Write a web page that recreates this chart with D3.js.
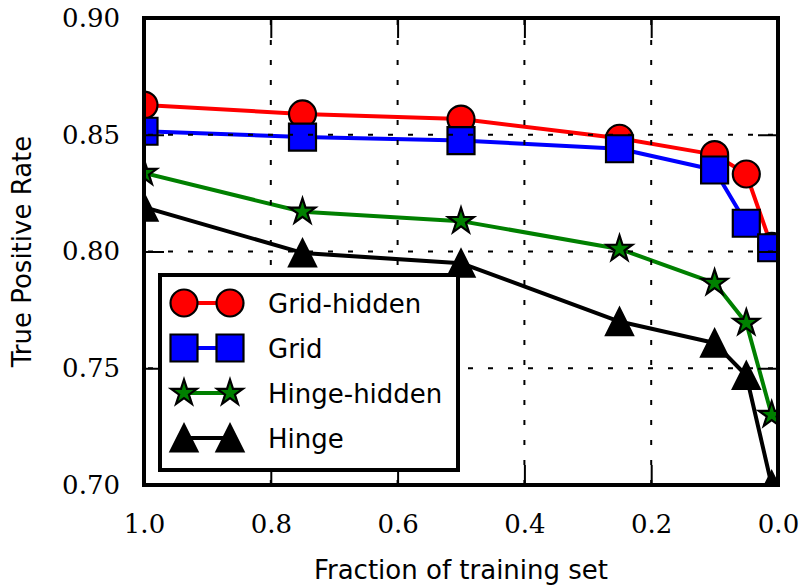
<!DOCTYPE html>
<html><head><meta charset="utf-8">
<script src="https://cdn.jsdelivr.net/npm/d3@7"></script>
<style>body{margin:0;background:#fff}</style>
</head><body>
<svg id="chart" width="803" height="587"></svg>
<script>
// ---- data ----
const fractions   = [1.0, 0.75, 0.5, 0.25, 0.1, 0.05, 0.01];
const gridHidden  = [0.8627, 0.8589, 0.8567, 0.8485, 0.8415, 0.8332, 0.8022];
const grid        = [0.8515, 0.8490, 0.8475, 0.8440, 0.8349, 0.8121, 0.8016];
const hingeHidden = [0.8336, 0.8170, 0.8130, 0.8011, 0.7865, 0.7694, 0.7300];
const hinge       = [0.8190, 0.7994, 0.7950, 0.7700, 0.7608, 0.7469, 0.7000];
const seriesNames = ["Grid-hidden", "Grid", "Hinge-hidden", "Hinge"];
const xTicks = [1.0, 0.8, 0.6, 0.4, 0.2, 0.0];
const yTicks = [0.70, 0.75, 0.80, 0.85, 0.90];
const xLabel = "Fraction of training set";
const yLabel = "True Positive Rate";

const seriesValues = [gridHidden, grid, hingeHidden, hinge];
const seriesColors = ["#ff0000", "#0000ff", "#008000", "#000000"];
const seriesMarkers = ["circle", "square", "star", "triangle"];

// ---- layout ----
const L = 144, R = 778, T = 18, B = 485;
const svg = d3.select("#chart");
const x = d3.scaleLinear().domain([1, 0]).range([L, R]);
const y = d3.scaleLinear().domain([0.70, 0.90]).range([B, T]);
const MS = 27, MEW = 2.2, LW = 4;

svg.append("defs").append("clipPath").attr("id", "clip")
  .append("rect").attr("x", L).attr("y", T).attr("width", R - L).attr("height", B - T);

function markerPath(type, s) {
  const h = s / 2;
  if (type === "circle") {
    return `M${h},0A${h},${h} 0 1,1 ${-h},0A${h},${h} 0 1,1 ${h},0Z`;
  }
  if (type === "square") {
    return `M${-h},${-h}H${h}V${h}H${-h}Z`;
  }
  if (type === "triangle") {
    return `M0,${-h}L${-h},${h}L${h},${h}Z`;
  }
  // star
  const ro = h, ri = h * 0.381966;
  const pts = [];
  for (let i = 0; i < 10; i++) {
    const r = i % 2 === 0 ? ro : ri;
    const a = -Math.PI / 2 + i * Math.PI / 5;
    pts.push([r * Math.cos(a), r * Math.sin(a)]);
  }
  return "M" + pts.map(p => p[0].toFixed(2) + "," + p[1].toFixed(2)).join("L") + "Z";
}

// ---- series ----
const plot = svg.append("g").attr("clip-path", "url(#clip)");
const line = d3.line().x(d => x(d[0])).y(d => y(d[1]));
seriesValues.forEach((vals, i) => {
  const pts = fractions.map((f, j) => [f, vals[j]]);
  const g = plot.append("g");
  g.append("path").attr("d", line(pts)).attr("fill", "none")
    .attr("stroke", seriesColors[i]).attr("stroke-width", LW).attr("stroke-linejoin", "round");
  g.selectAll("path.m").data(pts).enter().append("path").attr("class", "m")
    .attr("transform", d => `translate(${x(d[0])},${y(d[1])})`)
    .attr("d", markerPath(seriesMarkers[i], MS))
    .attr("fill", seriesColors[i]).attr("stroke", "#000").attr("stroke-width", MEW)
    .attr("stroke-linejoin", "miter");
});

// ---- grid (drawn above data) ----
const gridG = svg.append("g").attr("stroke", "#000").attr("stroke-width", 2)
  .attr("stroke-dasharray", "5,15");
gridG.selectAll("line.gx").data(xTicks.filter(v => v > 0 && v < 1)).enter().append("line")
  .attr("x1", d => x(d)).attr("x2", d => x(d)).attr("y1", B).attr("y2", T);
gridG.selectAll("line.gy").data(yTicks.filter(v => v > 0.7 && v < 0.9)).enter().append("line")
  .attr("y1", d => y(d)).attr("y2", d => y(d)).attr("x1", L + 4).attr("x2", R);

// ---- axes ----
const serif = "'DejaVu Serif', 'Liberation Serif', serif";
const sans = "'DejaVu Sans', sans-serif";
function styleAxis(g, showLabels) {
  g.select(".domain").remove();
  g.selectAll(".tick line").attr("stroke", "#000").attr("stroke-width", 2);
  g.selectAll(".tick text").attr("fill", "#000").style("font-family", serif).style("font-size", "26px");
  if (!showLabels) g.selectAll(".tick text").remove();
}
svg.append("g").attr("transform", `translate(0,${B})`)
  .call(d3.axisBottom(x).tickValues(xTicks).tickFormat(d3.format(".1f")).tickSizeInner(-20).tickSizeOuter(0).tickPadding(30))
  .call(g => styleAxis(g, true));
svg.append("g").attr("transform", `translate(0,${T})`)
  .call(d3.axisTop(x).tickValues(xTicks).tickSizeInner(-20).tickSizeOuter(0))
  .call(g => styleAxis(g, false));
svg.append("g").attr("transform", `translate(${L},0)`)
  .call(d3.axisLeft(y).tickValues(yTicks).tickFormat(d3.format(".2f")).tickSizeInner(-20).tickSizeOuter(0).tickPadding(24))
  .call(g => styleAxis(g, true));
svg.append("g").attr("transform", `translate(${R},0)`)
  .call(d3.axisRight(y).tickValues(yTicks).tickSizeInner(-20).tickSizeOuter(0))
  .call(g => styleAxis(g, false));

// frame
svg.append("rect").attr("x", L).attr("y", T).attr("width", R - L).attr("height", B - T)
  .attr("fill", "none").attr("stroke", "#000").attr("stroke-width", 4);

// axis labels
svg.append("text").attr("x", (L + R) / 2).attr("y", 579).attr("text-anchor", "middle")
  .style("font-family", sans).style("font-size", "26px").text(xLabel);
svg.append("text").attr("transform", `translate(31,${(T + B) / 2}) rotate(-90)`).attr("text-anchor", "middle")
  .style("font-family", sans).style("font-size", "26px").text(yLabel);

// ---- legend ----
const lg = svg.append("g");
lg.append("rect").attr("x", 160).attr("y", 275).attr("width", 298).attr("height", 195)
  .attr("fill", "#fff").attr("stroke", "#000").attr("stroke-width", 4);
seriesNames.forEach((name, i) => {
  const cy = 303 + i * 45;
  lg.append("line").attr("x1", 184).attr("x2", 230).attr("y1", cy).attr("y2", cy)
    .attr("stroke", seriesColors[i]).attr("stroke-width", LW);
  [184, 230].forEach(cx => {
    lg.append("path").attr("transform", `translate(${cx},${cy})`)
      .attr("d", markerPath(seriesMarkers[i], MS))
      .attr("fill", seriesColors[i]).attr("stroke", "#000").attr("stroke-width", MEW);
  });
  lg.append("text").attr("x", 268).attr("y", cy + 10)
    .style("font-family", sans).style("font-size", "26px").text(name);
});
</script>
</body></html>
